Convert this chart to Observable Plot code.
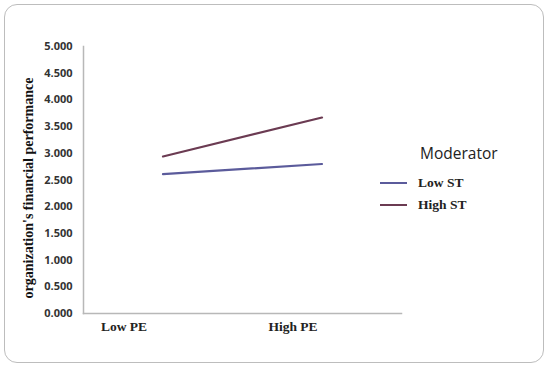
<!DOCTYPE html>
<html>
<head>
<meta charset="utf-8">
<script src="https://cdn.jsdelivr.net/npm/d3@7"></script>
<script src="https://cdn.jsdelivr.net/npm/@observablehq/plot@0.6"></script>
<style>
  html, body { margin: 0; padding: 0; background: #fff; }
  #wrap { position: relative; width: 550px; height: 369px; overflow: hidden; }
  #border { position: absolute; left: 4px; top: 4px; width: 540px; height: 359px;
            border: 1.5px solid #bdbdbd; border-radius: 13px; box-sizing: border-box; }
  #chart { position: absolute; left: 0; top: 0; }
  #legend { position: absolute; left: 378px; top: 143px; }
  #legend .title { font-family: "Open Sans", sans-serif; font-size: 15.5px; color: #222; margin-left: 42px; margin-bottom: 9px; line-height: 20px; }
  #legend .item { display: flex; align-items: center; height: 22px; font-family: "Liberation Serif", serif; font-weight: bold; font-size: 13.5px; color: #222; }
  #legend .swatch { width: 27px; height: 2px; margin-right: 11px; margin-left: 2px; }
</style>
</head>
<body>
<div id="wrap">
  <div id="border"></div>
  <div id="chart"></div>
  <div id="legend"></div>
</div>
<script>
const categories = ["Low PE", "High PE"];
const seriesNames = ["Low ST", "High ST"];
const lowST = [2.61, 2.80];
const highST = [2.94, 3.67];
const seriesColors = ["#5b5b9b", "#6b3b52"];
const yTicks = [0, 0.5, 1, 1.5, 2, 2.5, 3, 3.5, 4, 4.5, 5];
const yLabel = "organization's financial performance";
const legendTitle = "Moderator";

const data = [];
categories.forEach((c, i) => {
  data.push({cat: c, series: seriesNames[0], value: lowST[i]});
  data.push({cat: c, series: seriesNames[1], value: highST[i]});
});

const xAxisStyle = {
  tickSize: 0,
  tickPadding: 8,
  fontFamily: "Liberation Serif, serif",
  fontWeight: "bold",
  fontSize: 13.5,
  fill: "#222",
  label: null
};

const plot = Plot.plot({
  width: 550,
  height: 369,
  marginLeft: 83,
  marginRight: 149,
  marginTop: 46,
  marginBottom: 56,
  style: {background: "transparent", overflow: "visible"},
  x: {type: "band", domain: categories, padding: 0},
  y: {domain: [0, 5]},
  color: {domain: seriesNames, range: seriesColors},
  marks: [
    Plot.axisY({
      ticks: yTicks,
      tickFormat: d3.format(".3f"),
      tickSize: 0,
      tickPadding: 11,
      fontFamily: "Open Sans, sans-serif",
      fontWeight: "bold",
      fontSize: 11,
      fill: "#333",
      label: null
    }),
    Plot.axisX({...xAxisStyle, ticks: [categories[0]], dx: -39}),
    Plot.axisX({...xAxisStyle, ticks: [categories[1]], dx: -29}),
    Plot.frame({anchor: "left", stroke: "#b8b8b8", strokeWidth: 1.5}),
    Plot.frame({anchor: "bottom", stroke: "#b8b8b8", strokeWidth: 1.5}),
    Plot.line(data, {x: "cat", y: "value", z: "series", stroke: "series", strokeWidth: 2.2})
  ]
});

// y-axis title
const svg = d3.select(plot);
svg.append("text")
  .attr("transform", "translate(33,188) rotate(-90)")
  .attr("text-anchor", "middle")
  .attr("font-family", "Liberation Serif, serif")
  .attr("font-weight", "bold")
  .attr("font-size", 14)
  .attr("fill", "#111")
  .text(yLabel);

document.getElementById("chart").appendChild(plot);

const legend = d3.select("#legend");
legend.append("div").attr("class", "title").text(legendTitle);
seriesNames.forEach((s, i) => {
  const item = legend.append("div").attr("class", "item");
  item.append("div").attr("class", "swatch").style("background", seriesColors[i]);
  item.append("span").text(s);
});
</script>
</body>
</html>
